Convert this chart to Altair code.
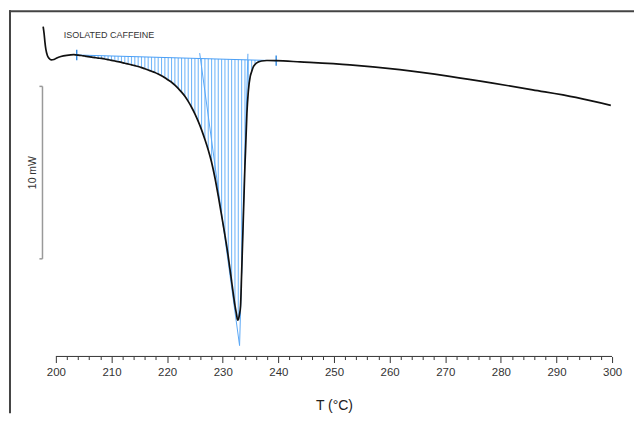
import altair as alt
import numpy as np
import pandas as pd

# DSC curve: temperature (°C) and heat flow (mW, relative)
# evenly sampled part over the melting peak (also used for the hatching)
GRID_T = [204.0, 204.6, 205.2, 205.8, 206.4, 207.0, 207.6, 208.2, 208.8, 209.4,
          210.0, 210.6, 211.2, 211.8, 212.4, 213.0, 213.6, 214.2, 214.8, 215.4,
          216.0, 216.6, 217.2, 217.8, 218.4, 219.0, 219.6, 220.2, 220.8, 221.4,
          222.0, 222.6, 223.2, 223.8, 224.4, 225.0, 225.6, 226.2, 226.8, 227.4,
          228.0, 228.6, 229.2, 229.8, 230.4, 231.0, 231.6, 232.2, 232.8, 233.4,
          234.0, 234.6, 235.2, 235.8, 236.4, 237.0]
GRID_HF = [-0.04, -0.06, -0.09, -0.12, -0.15, -0.18, -0.21, -0.23, -0.26, -0.30,
           -0.34, -0.38, -0.42, -0.46, -0.51, -0.55, -0.60, -0.65, -0.70, -0.76,
           -0.83, -0.90, -0.97, -1.04, -1.13, -1.23, -1.35, -1.48, -1.61, -1.77,
           -1.97, -2.18, -2.42, -2.72, -3.06, -3.44, -3.88, -4.37, -4.93, -5.54,
           -6.25, -7.15, -8.20, -9.33, -10.48, -11.72, -13.15, -14.55, -15.38, -12.70,
           -6.40, -2.15, -1.00, -0.58, -0.44, -0.38]
# other points of the curve (start, peak tip, flank, tail)
EXTRA_T = [197.72, 197.89, 198.03, 198.21, 198.48, 198.80, 199.19, 199.64, 200.18, 200.90,
           201.97, 203.23, 203.76,
           232.5, 232.67, 233.0, 233.21, 233.51, 233.87, 234.10, 234.35, 234.95, 235.54,
           237.94, 239.61, 243.91, 252.87, 261.83, 270.79, 278.55, 285.72, 293.49, 299.77]
EXTRA_HF = [1.62, 1.21, 0.75, 0.29, -0.06, -0.23, -0.31, -0.29, -0.20, -0.12,
            -0.05, -0.01, -0.03,
            -15.10, -15.40, -15.10, -14.57, -11.56, -7.75, -5.61, -3.41, -1.27, -0.69,
            -0.35, -0.36, -0.43, -0.60, -0.88, -1.27, -1.66, -2.05, -2.49, -2.95]

# integration baseline (limits)
BASE_T = [203.76, 239.61]
BASE_V = [-0.03, -0.36]

# onset / endset tangents
TAN_L_T = [225.86, 233.03]
TAN_L_V = [0.08, -16.88]
TAN_R_T = [234.53, 233.03]
TAN_R_V = [0.04, -16.88]

# x axis
X_TICKS = list(range(200, 301, 2))
X_RANGE = [200, 300]
AXIS_V = -17.51

# scale bar (10 mW)
BAR_T = 197.6
BAR_V = [-1.85, -11.85]
BAR_LABEL = "10 mW"
BAR_LABEL_T = 195.85
TITLE_TEXT = "ISOLATED CAFFEINE"
TITLE_T = 201.43
TITLE_V = 1.15

xs = alt.Scale(domain=[191.58, 303.94], nice=False, zero=False)
ys = alt.Scale(domain=[-20.81, 2.60], nice=False, zero=False)

xaxis = alt.Axis(
    values=X_TICKS,
    labelExpr="datum.value % 10 === 0 ? datum.label : ''",
    tickSize={"condition": {"test": "datum.value % 10 === 0", "value": 6}, "value": 3},
    domain=False, grid=False, offset=-57,
    labelFontSize=11.5, labelFont="Liberation Sans", labelColor="#333",
    tickColor="#333", tickWidth=1, labelPadding=4,
    labelOverlap=False, labelFlush=False,
    title="T (°C)", titleFontSize=14, titleFontWeight="normal",
    titleFont="Liberation Sans", titleColor="#222",
    titleX=326, titleY=49, titleBaseline="middle", titleAlign="center",
)


def X(field="T"):
    return alt.X(field, type="quantitative", scale=xs, axis=xaxis)


def Y(field="v"):
    return alt.Y(field, type="quantitative", scale=ys, axis=None)


grid = pd.DataFrame({"T": GRID_T, "v": GRID_HF})
extra = pd.DataFrame({"T": EXTRA_T, "v": EXTRA_HF})
curve = pd.concat([grid, extra]).sort_values("T").reset_index(drop=True)

grid["base"] = np.interp(grid["T"], BASE_T, BASE_V)
hatch = alt.Chart(grid).mark_rule(color="#66b0f8", strokeWidth=1.1, opacity=0.9).encode(
    x=X(), y=Y(), y2="base:Q")

base_line = alt.Chart(pd.DataFrame({"T": BASE_T, "v": BASE_V})).mark_line(
    color="#4a9ff5", strokeWidth=1).encode(x=X(), y=Y())

tan_l = alt.Chart(pd.DataFrame({"T": TAN_L_T, "v": TAN_L_V})).mark_line(
    color="#5aa8f6", strokeWidth=1).encode(x=X(), y=Y())
tan_r = alt.Chart(pd.DataFrame({"T": TAN_R_T, "v": TAN_R_V})).mark_line(
    color="#5aa8f6", strokeWidth=1).encode(x=X(), y=Y())

lim_df = pd.DataFrame({"T": BASE_T, "v": BASE_V})
lim_df["top"] = lim_df["v"] + 0.3
lim_df["bot"] = lim_df["v"] - 0.3
limits = alt.Chart(lim_df).mark_rule(color="#1e7fe0", strokeWidth=1.3).encode(
    x=X(), y=alt.Y("top:Q", scale=ys, axis=None), y2="bot:Q")
lim_ticks = alt.Chart(lim_df).mark_tick(color="#1e7fe0", size=4, thickness=1,
                                        orient="horizontal").encode(x=X(), y=Y())

line = alt.Chart(curve).mark_line(color="#111", strokeWidth=1.7,
                                  interpolate="monotone").encode(x=X(), y=Y())

axis_line = alt.Chart(pd.DataFrame({"T": [X_RANGE[0]], "T2": [X_RANGE[1]], "v": [AXIS_V]})).mark_rule(
    color="#333", strokeWidth=1).encode(x=X(), x2="T2:Q", y=Y())

bar_df = pd.DataFrame({"T": [BAR_T], "v": [BAR_V[0]], "v2": [BAR_V[1]]})
bar = alt.Chart(bar_df).mark_rule(color="#999", strokeWidth=1.5).encode(
    x=X(), y=Y(), y2="v2:Q")
cap_df = pd.DataFrame({"T": [BAR_T - 0.55, BAR_T - 0.55], "T2": [BAR_T, BAR_T], "v": BAR_V})
caps = alt.Chart(cap_df).mark_rule(color="#999", strokeWidth=1.5).encode(
    x=X(), x2="T2:Q", y=Y())
bar_text = alt.Chart(pd.DataFrame({"T": [BAR_LABEL_T], "v": [sum(BAR_V) / 2], "t": [BAR_LABEL]})).mark_text(
    angle=270, fontSize=10.5, font="Liberation Sans", color="#333", align="center", baseline="middle"
).encode(x=X(), y=Y(), text="t:N")

title_text = alt.Chart(pd.DataFrame({"T": [TITLE_T], "v": [TITLE_V], "t": [TITLE_TEXT]})).mark_text(
    fontSize=9, font="Liberation Sans", color="#333", align="left", baseline="middle"
).encode(x=X(), y=Y(), text="t:N")

frame_top = alt.Chart(pd.DataFrame({"a": [0]})).mark_rule(color="#444", strokeWidth=2).encode(
    x=alt.value(0), x2=alt.value(627), y=alt.value(1.5))
frame_left = alt.Chart(pd.DataFrame({"a": [0]})).mark_rule(color="#444", strokeWidth=2).encode(
    x=alt.value(1), y=alt.value(0.5), y2=alt.value(405))

chart = alt.layer(
    hatch, base_line, tan_l, tan_r, limits, lim_ticks, line, axis_line,
    bar, caps, bar_text, title_text, frame_top, frame_left
).properties(width=627, height=405, padding=0, background="white").configure_view(stroke=None)

chart.save("out.html", embed_options={"renderer": "svg", "actions": False})
